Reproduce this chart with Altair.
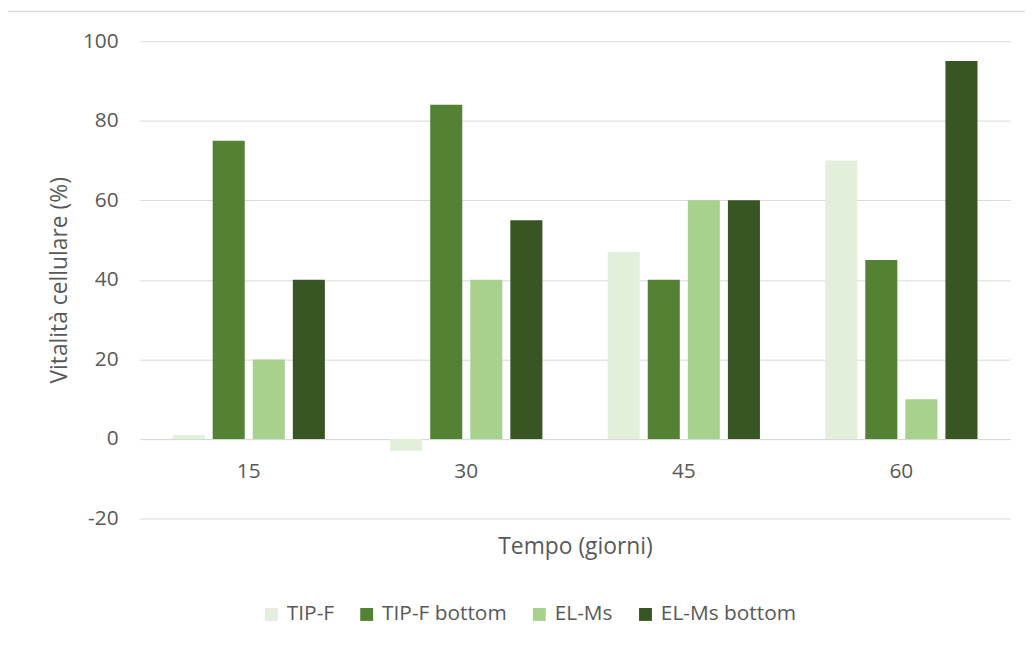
import altair as alt
import pandas as pd

days = ["15", "30", "45", "60"]
series = ["TIP-F", "TIP-F bottom", "EL-Ms", "EL-Ms bottom"]
tipf = [1, -3, 47, 70]
tipf_bottom = [75, 84, 40, 45]
elms = [20, 40, 60, 10]
elms_bottom = [40, 55, 60, 95]
colors = ["#E2EFDA", "#548235", "#A9D18E", "#375623"]
y_ticks = [-20, 0, 20, 40, 60, 80, 100]

rows = []
for s, vals in zip(series, [tipf, tipf_bottom, elms, elms_bottom]):
    for d, v in zip(days, vals):
        rows.append({"Tempo": d, "Serie": s, "Valore": v})
df = pd.DataFrame(rows)

FONT = "Open Sans"
TXT = "#595959"
GRID = "#D9D9D9"
W, H = 877, 481

bars = alt.Chart(df).mark_bar().encode(
    x=alt.X(
        "Tempo:N", sort=days,
        scale=alt.Scale(paddingInner=0.3, paddingOuter=0.15),
        axis=alt.Axis(
            title="Tempo (giorni)", labelAngle=0, offset=-80,
            domainColor=GRID, domainWidth=1, ticks=False, labelPadding=22,
            labelFontSize=21, labelColor=TXT, labelFont=FONT,
            titleFont=FONT, titleFontSize=23, titleColor=TXT,
            titleFontWeight="normal", titleY=108, titleBaseline="middle",
            grid=False,
        ),
    ),
    xOffset=alt.XOffset("Serie:N", sort=series,
                        scale=alt.Scale(paddingInner=0.2, paddingOuter=0)),
    y=alt.Y(
        "Valore:Q",
        scale=alt.Scale(domain=[-20, 100], nice=False, zero=False),
        axis=alt.Axis(
            values=y_ticks, title="Vitalità cellulare (%)", domain=False,
            labelExpr="'' + datum.value",
            ticks=False, labelPadding=22, gridColor=GRID, gridWidth=1,
            labelFontSize=21, labelColor=TXT, labelFont=FONT,
            titleFont=FONT, titleFontSize=23, titleColor=TXT,
            titleFontWeight="normal", titleX=-81, titleY=H / 2,
            titleAngle=270, titleBaseline="middle", titleAlign="center",
        ),
    ),
    color=alt.Color(
        "Serie:N", sort=series,
        scale=alt.Scale(domain=series, range=colors),
        legend=alt.Legend(
            title=None, orient="none", direction="horizontal",
            legendX=122, legendY=567, symbolType="square", symbolSize=169,
            symbolStrokeWidth=0, labelFont=FONT, labelFontSize=21,
            labelColor=TXT, labelOffset=5, columnPadding=22,
        ),
    ),
)

frame = alt.Chart(alt.Data(values=[{}])).mark_rect(
    fill=None, stroke=GRID, strokeWidth=1.5
).encode(
    x=alt.value(-134), x2=alt.value(W + 40),
    y=alt.value(-30), y2=alt.value(H + 130),
)

chart = alt.layer(frame, bars).properties(
    width=W, height=H,
    autosize=alt.AutoSizeParams(type="none"),
    padding={"left": 133, "top": 31, "right": 15, "bottom": 118},
).configure_view(strokeWidth=0)

chart.save("out.html", embed_options={"renderer": "svg", "actions": False})
